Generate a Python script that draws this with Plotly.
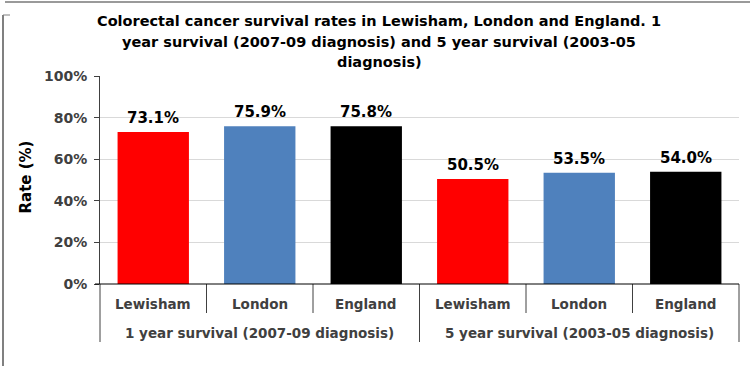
import plotly.graph_objects as go

# Survival rates (%) by area, grouped by survival period
areas = ["Lewisham", "London", "England", "Lewisham", "London", "England"]
periods = ["1 year survival (2007-09 diagnosis)", "5 year survival (2003-05 diagnosis)"]
rates = [73.1, 75.9, 75.8, 50.5, 53.5, 54.0]
bar_colors = ["#ff0000", "#4f81bd", "#000000", "#ff0000", "#4f81bd", "#000000"]
y_ticks = [0, 20, 40, 60, 80, 100]
title_lines = [
    "Colorectal cancer survival rates in Lewisham, London and England. 1",
    "year survival (2007-09 diagnosis) and 5 year survival (2003-05",
    "diagnosis)",
]
y_title = "Rate (%)"

W, H = 750, 366
L, R, T, B = 100, 11, 76, 82
plot_w = W - L - R
plot_h = H - T - B

def px_x(px):
    return (px - L) / plot_w

def px_y(py):
    return (H - B - py) / plot_h

font_family = "DejaVu Sans, Verdana, sans-serif"

n = len(areas)
xs = list(range(n))

fig = go.Figure()
fig.add_trace(go.Bar(
    x=xs, y=rates,
    marker=dict(color=bar_colors, line=dict(width=0)),
    width=0.67,
    hoverinfo="skip",
))

annotations = []
# title, one line per annotation for tight control of spacing
for k, line in enumerate(title_lines):
    annotations.append(dict(
        x=px_x(379), y=px_y(21 + 20.7 * k), xref="paper", yref="paper",
        text=f"<b>{line}</b>", showarrow=False,
        xanchor="center", yanchor="middle",
        font=dict(family=font_family, size=14.5, color="#000000"),
    ))
# y axis title
annotations.append(dict(
    x=px_x(25), y=px_y(177.5), xref="paper", yref="paper",
    text=f"<b>{y_title}</b>", showarrow=False, textangle=-90,
    xanchor="center", yanchor="middle",
    font=dict(family=font_family, size=15, color="#000000"),
))
# value labels above the bars
for i, v in enumerate(rates):
    annotations.append(dict(
        x=i, y=v, xref="x", yref="y", text=f"<b>{v:.1f}%</b>",
        showarrow=False, yanchor="bottom", yshift=3,
        font=dict(family=font_family, size=15, color="#000000"),
    ))
# first level category labels
for i, a in enumerate(areas):
    annotations.append(dict(
        x=i, y=px_y(304), xref="x", yref="paper", text=f"<b>{a}</b>",
        showarrow=False, yanchor="middle",
        font=dict(family=font_family, size=13.5, color="#404040"),
    ))
# second level group labels
group_size = n // len(periods)
for g, p in enumerate(periods):
    annotations.append(dict(
        x=(g * group_size + (g + 1) * group_size - 1) / 2, y=px_y(333),
        xref="x", yref="paper", text=f"<b>{p}</b>",
        showarrow=False, yanchor="middle",
        font=dict(family=font_family, size=13.5, color="#404040"),
    ))

shapes = []
axis_col = "#404040"
# category separators
for k in range(n + 1):
    outer = (k % group_size == 0)
    shapes.append(dict(
        type="line", xref="paper", yref="paper",
        x0=k / n, x1=k / n, y0=0, y1=px_y(342 if outer else 313),
        line=dict(color=axis_col, width=1),
    ))
# baseline extending left to the 0% tick
shapes.append(dict(type="line", xref="paper", yref="paper",
                   x0=px_x(95), x1=1, y0=0, y1=0,
                   line=dict(color="#000000", width=1)))
# chart frame
frame_col = "#9a9a9a"
shapes.append(dict(type="line", xref="paper", yref="paper",
                   x0=px_x(5), x1=px_x(750), y0=px_y(2), y1=px_y(2),
                   line=dict(color=frame_col, width=2)))
shapes.append(dict(type="line", xref="paper", yref="paper",
                   x0=px_x(3), x1=px_x(3), y0=px_y(15), y1=px_y(366),
                   line=dict(color="#808080", width=2)))
shapes.append(dict(type="line", xref="paper", yref="paper",
                   x0=px_x(3), x1=px_x(10), y0=px_y(15), y1=px_y(15),
                   line=dict(color="#808080", width=1)))

fig.update_layout(
    width=W, height=H,
    margin=dict(l=L, r=R, t=T, b=B, pad=0),
    paper_bgcolor="white", plot_bgcolor="white",
    showlegend=False,
    xaxis=dict(
        range=[-0.5, n - 0.5], showticklabels=False, showgrid=False,
        zeroline=False, showline=False, ticks="", fixedrange=True,
    ),
    yaxis=dict(
        range=[0, 100], tickvals=y_ticks,
        ticktext=[f"<b>{t}%</b>" for t in y_ticks],
        tickfont=dict(family=font_family, size=14, color="#404040"),
        showgrid=True, gridcolor="#d9d9d9", gridwidth=1,
        zeroline=False, showline=True, linecolor=axis_col, linewidth=1,
        ticks="outside", ticklen=5, tickcolor=axis_col, ticklabelstandoff=4,
    ),
    annotations=annotations,
    shapes=shapes,
    bargap=0.33,
)

fig.write_html("out.html")
